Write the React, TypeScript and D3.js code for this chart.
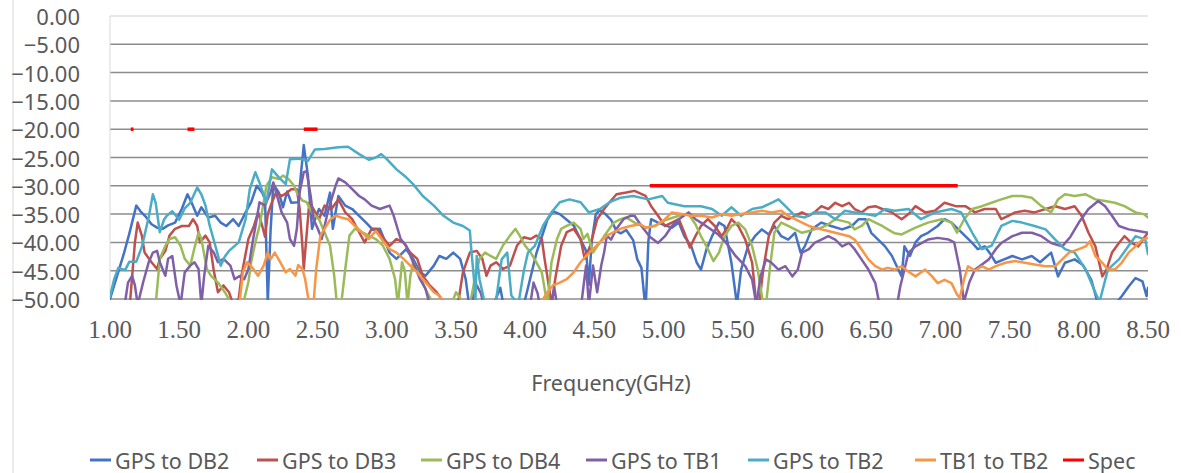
import React from "react";
import * as d3 from "d3";

type Pt = [number, number];

const seriesNames = ["GPS to DB2", "GPS to DB3", "GPS to DB4", "GPS to TB1", "GPS to TB2", "TB1 to TB2", "Spec"];
const seriesColors = ["#4472C4", "#C0504D", "#9BBB59", "#7F60A8", "#4BACC6", "#F79646", "#FF0000"];

const xTicks = [1.0, 1.5, 2.0, 2.5, 3.0, 3.5, 4.0, 4.5, 5.0, 5.5, 6.0, 6.5, 7.0, 7.5, 8.0, 8.5];
const yTicks = [0, -5, -10, -15, -20, -25, -30, -35, -40, -45, -50];

const gpsToDb2: Pt[] = [
  [1.00,-50],[1.05,-46],[1.10,-42],[1.14,-38.4],[1.19,-33.5],[1.22,-34.5],[1.26,-35.5],[1.30,-36.8],[1.34,-37.4],[1.38,-37.6],[1.42,-37],[1.47,-36.5],[1.52,-34],[1.56,-31.5],[1.59,-33],[1.63,-35.3],[1.66,-33.8],[1.71,-35.6],[1.76,-35.3],[1.80,-36.5],[1.84,-37.1],[1.89,-35.9],[1.93,-37.1],[1.98,-34.7],[2.02,-32.9],[2.06,-30],[2.10,-31.2],[2.12,-32.4],[2.14,-50.5],[2.16,-38],[2.18,-29.7],[2.22,-31.2],[2.25,-33.8],[2.28,-31],[2.31,-33],[2.36,-32.9],[2.40,-22.8],[2.43,-28.2],[2.46,-37.6],[2.48,-36],[2.51,-34.1],[2.55,-35.3],[2.59,-31.2],[2.61,-37.6],[2.65,-31.8],[2.70,-33.5],[2.75,-34.1],[2.80,-35.3],[2.85,-36.5],[2.90,-37.8],[2.95,-37.6],[3.02,-41.8],[3.07,-42.9],[3.14,-41.2],[3.19,-42.9],[3.24,-45.3],[3.28,-45.9],[3.34,-44.1],[3.38,-42.4],[3.43,-42.9],[3.48,-41.8],[3.53,-42.9],[3.57,-46.5],[3.60,-52],[3.70,-53],[3.78,-50.5],[3.82,-48],[3.85,-52],[3.95,-53],[4.00,-50],[4.05,-45],[4.08,-42],[4.12,-39],[4.16,-36],[4.20,-34.5],[4.25,-35],[4.30,-36],[4.35,-37],[4.40,-39.5],[4.44,-41.5],[4.46,-47.5],[4.48,-40],[4.51,-35],[4.54,-34.3],[4.58,-35],[4.62,-36],[4.66,-38],[4.69,-38.4],[4.73,-37.8],[4.78,-39.6],[4.81,-43],[4.84,-44.5],[4.87,-52],[4.89,-39.8],[4.91,-35.9],[4.96,-36.5],[5.01,-37],[5.06,-37.4],[5.11,-36.5],[5.15,-38.9],[5.20,-40.7],[5.24,-43.6],[5.27,-44.8],[5.31,-41.2],[5.35,-38.9],[5.40,-36.5],[5.44,-37.1],[5.49,-43.6],[5.53,-51],[5.56,-44.8],[5.61,-40.7],[5.66,-38.9],[5.71,-37.7],[5.76,-38.6],[5.80,-37.1],[5.85,-38.9],[5.90,-39.5],[5.95,-38.3],[5.99,-41.8],[6.02,-40.7],[6.07,-37.7],[6.14,-36.5],[6.21,-37.1],[6.29,-37.7],[6.36,-37.1],[6.41,-35.9],[6.46,-35.9],[6.50,-38.3],[6.55,-39.5],[6.60,-40.7],[6.65,-42.4],[6.70,-45],[6.72,-46],[6.74,-40.7],[6.78,-42.4],[6.82,-40],[6.86,-38.9],[6.91,-38.3],[6.98,-37.1],[7.03,-35.9],[7.08,-36.5],[7.13,-37.7],[7.18,-38.9],[7.23,-40.1],[7.27,-41.2],[7.32,-40.7],[7.36,-42],[7.40,-43.6],[7.46,-43],[7.52,-42.4],[7.59,-43],[7.66,-42.4],[7.72,-43.5],[7.80,-41.8],[7.85,-46],[7.90,-43.6],[7.97,-43],[8.03,-44],[8.09,-46.6],[8.14,-51],[8.20,-52],[8.26,-51],[8.31,-49.5],[8.36,-47.8],[8.41,-46.3],[8.46,-46.9],[8.49,-49.5],[8.50,-48]
];

const gpsToDb3: Pt[] = [
  [1.14,-52],[1.16,-46],[1.18,-40],[1.20,-36.5],[1.23,-38.8],[1.25,-41.8],[1.30,-43.5],[1.34,-44.7],[1.36,-42.9],[1.40,-41.5],[1.43,-38.8],[1.47,-37.6],[1.52,-37.1],[1.57,-37.1],[1.60,-35.9],[1.63,-37.1],[1.65,-40],[1.69,-38.8],[1.72,-40],[1.75,-45],[1.78,-48.8],[1.82,-47.6],[1.86,-48.8],[1.89,-51],[1.93,-50],[1.95,-45.9],[2.00,-39.4],[2.04,-37.1],[2.07,-34.7],[2.10,-37.1],[2.12,-39],[2.14,-35],[2.17,-32.9],[2.20,-31.2],[2.24,-31.8],[2.28,-31.2],[2.31,-30.6],[2.35,-30.6],[2.37,-34],[2.39,-40.6],[2.40,-44.7],[2.42,-38.8],[2.44,-33],[2.47,-34.1],[2.51,-35.9],[2.55,-33.5],[2.60,-34.1],[2.65,-32.4],[2.70,-34.7],[2.75,-35.9],[2.80,-38.2],[2.84,-40],[2.89,-37.6],[2.93,-37.6],[2.98,-39.4],[3.02,-40.6],[3.07,-39.4],[3.12,-40],[3.17,-41.8],[3.22,-42.9],[3.26,-45.9],[3.31,-47.6],[3.36,-48.8],[3.41,-50.5],[3.48,-52],[3.52,-50],[3.55,-45.3],[3.60,-41.8],[3.65,-41.5],[3.69,-42.9],[3.72,-45.9],[3.75,-44.1],[3.79,-43.5],[3.84,-44.7],[3.89,-44.1],[3.94,-40.6],[3.99,-39.1],[4.04,-39.4],[4.08,-38.8],[4.12,-39.4],[4.14,-42.9],[4.17,-47.6],[4.19,-51],[4.22,-46],[4.26,-40.6],[4.30,-38.2],[4.35,-37.6],[4.40,-39.4],[4.43,-42.9],[4.47,-40.6],[4.52,-35.9],[4.57,-34.1],[4.61,-32.9],[4.66,-31.5],[4.73,-31.2],[4.79,-30.9],[4.87,-31.8],[4.91,-33.6],[4.96,-35.3],[5.01,-37.1],[5.06,-36.5],[5.11,-35.9],[5.15,-38.3],[5.19,-40.9],[5.23,-38.9],[5.27,-37.1],[5.32,-35.9],[5.37,-37.1],[5.42,-38.9],[5.46,-37.4],[5.49,-35.9],[5.54,-37.1],[5.59,-39.5],[5.64,-43.6],[5.67,-51],[5.69,-51],[5.72,-44.8],[5.76,-38.9],[5.80,-36.5],[5.85,-35.3],[5.90,-35.9],[5.95,-35.3],[6.00,-34.7],[6.05,-35.3],[6.09,-34.7],[6.14,-33.6],[6.19,-34.1],[6.24,-33],[6.29,-33.6],[6.34,-33],[6.38,-34.1],[6.43,-34.7],[6.48,-33.8],[6.53,-33.6],[6.58,-34.1],[6.65,-34.7],[6.72,-35.9],[6.77,-35],[6.82,-33.6],[6.89,-34.7],[6.96,-34.4],[7.03,-33],[7.11,-33.6],[7.18,-33.6],[7.25,-34.7],[7.32,-34.1],[7.40,-34.1],[7.44,-35.9],[7.49,-35.3],[7.54,-34.7],[7.61,-34.4],[7.68,-34.7],[7.76,-34.1],[7.83,-33.6],[7.90,-34.1],[7.97,-33.6],[8.02,-35.3],[8.07,-38.3],[8.12,-40.7],[8.17,-46],[8.20,-44.8],[8.24,-41.8],[8.29,-40.1],[8.33,-38.9],[8.38,-40.1],[8.43,-40.7],[8.48,-38.9],[8.50,-38.3]
];

const gpsToDb4: Pt[] = [
  [1.33,-51],[1.36,-42.9],[1.40,-40.6],[1.43,-39.4],[1.47,-39.1],[1.51,-40.6],[1.54,-42.9],[1.58,-44.1],[1.61,-41],[1.64,-38.2],[1.66,-39.4],[1.70,-44.7],[1.73,-45.9],[1.78,-47.1],[1.83,-48.8],[1.88,-51],[1.95,-52],[2.00,-47],[2.02,-43.5],[2.05,-40],[2.08,-37.1],[2.11,-33],[2.13,-30],[2.17,-28.5],[2.22,-28.8],[2.25,-28.2],[2.29,-28.8],[2.33,-30],[2.35,-31.2],[2.39,-32.6],[2.42,-32.9],[2.46,-34.7],[2.51,-35.9],[2.55,-38.2],[2.59,-40.6],[2.62,-45.9],[2.64,-51],[2.67,-51],[2.70,-44.7],[2.73,-38.8],[2.77,-37.6],[2.82,-38.2],[2.87,-38.8],[2.92,-39.4],[2.97,-40.5],[3.02,-42.9],[3.06,-46.5],[3.08,-51],[3.11,-43.5],[3.13,-45],[3.15,-51],[3.17,-46],[3.19,-43.5],[3.24,-46],[3.29,-48.8],[3.34,-51],[3.45,-52],[3.50,-48.8],[3.55,-50.5],[3.60,-51],[3.64,-46],[3.67,-42.9],[3.71,-41.8],[3.75,-42.4],[3.79,-42.9],[3.84,-40.5],[3.89,-38.8],[3.93,-37.6],[3.96,-38.8],[4.00,-40.6],[4.04,-41.8],[4.08,-43.5],[4.12,-45.3],[4.16,-51],[4.19,-43.5],[4.23,-39.4],[4.26,-37.6],[4.30,-37.1],[4.35,-36.5],[4.40,-37.6],[4.42,-39.4],[4.45,-38.5],[4.49,-41.8],[4.54,-40],[4.59,-38.2],[4.64,-36.5],[4.69,-35.9],[4.73,-35.6],[4.79,-36.5],[4.87,-37.4],[4.94,-37],[5.02,-36],[5.11,-35.3],[5.18,-35],[5.23,-36.8],[5.27,-38.9],[5.32,-41.2],[5.36,-43.3],[5.40,-41.8],[5.44,-38.9],[5.49,-37.1],[5.54,-36.5],[5.59,-37.7],[5.64,-40.7],[5.68,-44.8],[5.72,-51],[5.74,-51],[5.77,-44.2],[5.80,-38.3],[5.85,-36.5],[5.90,-37.1],[5.95,-37.7],[6.00,-38.3],[6.05,-38],[6.09,-37.7],[6.14,-37.4],[6.19,-36.8],[6.24,-35.9],[6.29,-36.2],[6.34,-36.5],[6.38,-37.7],[6.43,-37.1],[6.48,-35.9],[6.53,-36.5],[6.58,-37.1],[6.62,-37.7],[6.67,-38.4],[6.72,-38.6],[6.82,-37.4],[6.91,-36.5],[7.01,-35.9],[7.08,-36.5],[7.12,-38.3],[7.17,-36],[7.23,-34.1],[7.30,-33.6],[7.37,-33],[7.44,-32.4],[7.52,-31.8],[7.59,-31.8],[7.66,-32.1],[7.73,-33.6],[7.80,-34.7],[7.85,-32.4],[7.90,-31.5],[7.97,-31.8],[8.05,-31.5],[8.12,-32.4],[8.19,-32.7],[8.26,-33],[8.33,-33.6],[8.41,-34.7],[8.47,-35],[8.50,-35.6]
];

const gpsToTb1: Pt[] = [
  [1.10,-52],[1.13,-47.1],[1.16,-45.9],[1.18,-47.6],[1.20,-51],[1.24,-47],[1.28,-43.5],[1.31,-41.8],[1.34,-41.5],[1.36,-43.5],[1.40,-45.9],[1.42,-42.9],[1.45,-42.4],[1.48,-47.6],[1.51,-51],[1.54,-45.3],[1.58,-44.1],[1.61,-43.5],[1.64,-44.7],[1.66,-51],[1.68,-46],[1.71,-40.6],[1.75,-41.8],[1.78,-43.5],[1.82,-42.9],[1.87,-44.1],[1.90,-46.5],[1.94,-45.9],[1.97,-46.5],[2.00,-44.7],[2.03,-40],[2.06,-35.9],[2.08,-32.9],[2.12,-33.5],[2.16,-31.2],[2.18,-29.4],[2.21,-32],[2.24,-34.7],[2.28,-36.5],[2.30,-39.4],[2.33,-40.6],[2.35,-37.6],[2.37,-31.2],[2.40,-27.6],[2.42,-27.4],[2.45,-31.8],[2.47,-35.9],[2.50,-37.5],[2.53,-39.4],[2.57,-35],[2.60,-32.4],[2.63,-30],[2.65,-28.7],[2.70,-29.4],[2.75,-30.6],[2.80,-31.8],[2.84,-32.4],[2.89,-33.5],[2.95,-34.1],[3.02,-33.5],[3.05,-35.3],[3.10,-39.4],[3.14,-40.6],[3.19,-43.5],[3.24,-46.5],[3.28,-48.2],[3.31,-51],[3.45,-53],[3.60,-52],[3.65,-47.6],[3.68,-49],[3.70,-51],[3.85,-53],[4.03,-52],[4.06,-47.1],[4.09,-49],[4.11,-52],[4.18,-52],[4.21,-48],[4.23,-51],[4.40,-52],[4.43,-46],[4.44,-44.1],[4.46,-51],[4.49,-44.1],[4.52,-48.8],[4.55,-44],[4.57,-41.8],[4.59,-38.8],[4.62,-39.5],[4.66,-37.6],[4.71,-35.9],[4.76,-35.3],[4.79,-35.3],[4.84,-37.1],[4.90,-39],[4.96,-40.1],[5.01,-38.9],[5.06,-37.1],[5.11,-35.9],[5.18,-34.7],[5.23,-35.9],[5.27,-36.5],[5.33,-37.5],[5.39,-38.5],[5.45,-40],[5.52,-42.4],[5.59,-44.2],[5.64,-46.6],[5.67,-51],[5.70,-46],[5.74,-43],[5.78,-43.6],[5.83,-44.8],[5.88,-44.2],[5.93,-46],[5.97,-44.8],[6.00,-41.8],[6.05,-41.2],[6.09,-40.1],[6.14,-39.5],[6.19,-38.9],[6.24,-39.5],[6.29,-40.7],[6.34,-40.1],[6.38,-41.2],[6.43,-43],[6.48,-44.8],[6.53,-47.2],[6.56,-51],[6.68,-52],[6.71,-47.8],[6.74,-44.8],[6.77,-41.8],[6.82,-40.7],[6.91,-39.5],[6.98,-39.2],[7.06,-39.5],[7.10,-40],[7.12,-42.4],[7.14,-44.8],[7.17,-50.5],[7.21,-47],[7.25,-44.8],[7.30,-43.9],[7.35,-43],[7.40,-41.2],[7.44,-40.1],[7.52,-38.9],[7.59,-38.3],[7.66,-38.3],[7.73,-38.9],[7.80,-40.1],[7.88,-40.7],[7.94,-39],[8.00,-36.5],[8.07,-34.1],[8.14,-32.7],[8.19,-33.6],[8.24,-35.3],[8.29,-37.1],[8.36,-37.7],[8.43,-38],[8.50,-38.3]
];

const gpsToTb2: Pt[] = [
  [1.00,-49.6],[1.03,-46.5],[1.06,-44.5],[1.11,-44.9],[1.14,-43.4],[1.19,-43.4],[1.23,-40.8],[1.28,-35.5],[1.31,-31.5],[1.33,-33],[1.36,-38.2],[1.39,-36],[1.41,-35.3],[1.45,-34.5],[1.50,-36],[1.54,-34],[1.58,-33],[1.63,-30.3],[1.66,-31.5],[1.69,-33.5],[1.72,-37],[1.76,-40.5],[1.80,-44.1],[1.83,-42.5],[1.86,-41.5],[1.93,-40],[1.98,-35.9],[2.01,-30.6],[2.05,-27.6],[2.08,-29.4],[2.13,-33],[2.17,-27.1],[2.22,-28.5],[2.27,-29.7],[2.30,-25.3],[2.36,-25.2],[2.43,-25.6],[2.48,-23.6],[2.55,-23.5],[2.65,-23.2],[2.72,-23.1],[2.80,-24.4],[2.87,-25.4],[2.92,-25],[2.96,-24.4],[3.00,-25.3],[3.07,-27.1],[3.14,-28.5],[3.19,-29.7],[3.26,-31.8],[3.34,-33.5],[3.41,-35.3],[3.48,-36.5],[3.55,-37.1],[3.60,-37.9],[3.61,-41.2],[3.63,-46.5],[3.64,-50.5],[3.65,-42.4],[3.67,-46.5],[3.71,-51],[3.78,-52],[3.83,-43],[3.87,-41.8],[3.90,-49.4],[3.95,-51],[3.99,-45],[4.02,-41.8],[4.07,-40.6],[4.13,-37],[4.19,-34.7],[4.25,-32.9],[4.32,-32.4],[4.40,-32.9],[4.46,-34.7],[4.54,-34.1],[4.61,-32.9],[4.69,-32.1],[4.78,-31.8],[4.89,-32.4],[4.99,-31.8],[5.03,-33],[5.15,-33.6],[5.27,-33.6],[5.35,-34.1],[5.42,-35.3],[5.49,-33.8],[5.56,-35.3],[5.64,-34.1],[5.71,-33.8],[5.78,-33],[5.83,-32.4],[5.88,-33.6],[5.95,-35.3],[6.02,-35.6],[6.09,-34.7],[6.17,-34.7],[6.24,-35.9],[6.31,-34.4],[6.38,-34.7],[6.46,-35],[6.53,-35.3],[6.60,-34.1],[6.67,-34.4],[6.77,-34.1],[6.86,-35.9],[6.96,-34.7],[7.08,-34.1],[7.15,-34.7],[7.23,-38.3],[7.30,-41.2],[7.37,-40.6],[7.44,-37.1],[7.52,-36.2],[7.59,-36.5],[7.68,-37.1],[7.76,-37.7],[7.83,-39.5],[7.90,-41.2],[7.97,-41.8],[8.05,-44.8],[8.12,-48.9],[8.15,-50.5],[8.21,-44.8],[8.29,-43],[8.36,-40.6],[8.41,-38.9],[8.48,-39.5],[8.50,-42.1]
];

const tb1ToTb2: Pt[] = [
  [1.93,-52],[1.96,-45.3],[1.99,-43.5],[2.03,-44.5],[2.07,-45.9],[2.11,-44.1],[2.14,-41.8],[2.16,-43],[2.19,-41.8],[2.23,-43.5],[2.27,-45.3],[2.30,-44.7],[2.34,-45.9],[2.36,-44],[2.39,-44.7],[2.41,-46.5],[2.44,-51],[2.47,-51],[2.49,-44.7],[2.52,-38.8],[2.55,-37.6],[2.59,-36],[2.63,-35.3],[2.67,-35.6],[2.72,-35.9],[2.77,-37.1],[2.82,-38.2],[2.87,-39.4],[2.92,-38],[2.98,-40],[3.02,-41.2],[3.07,-41.8],[3.12,-42.9],[3.17,-44.1],[3.22,-45.3],[3.26,-46.5],[3.30,-47.6],[3.34,-48.8],[3.38,-49.4],[3.42,-51],[3.80,-53],[4.10,-52],[4.13,-50],[4.16,-48.8],[4.20,-47.6],[4.25,-47.1],[4.30,-46.5],[4.35,-45.3],[4.40,-43.5],[4.44,-42.4],[4.49,-41.2],[4.54,-40],[4.59,-38.8],[4.64,-38.2],[4.69,-37.6],[4.76,-37.1],[4.83,-36.8],[4.87,-37.4],[4.94,-37.1],[5.01,-35.9],[5.06,-34.7],[5.13,-35],[5.20,-35.3],[5.27,-35.3],[5.35,-35.6],[5.42,-35],[5.49,-35.3],[5.56,-35],[5.64,-34.7],[5.71,-34.4],[5.78,-34.7],[5.85,-34.4],[5.90,-35.3],[5.95,-35.9],[6.00,-36.5],[6.05,-37.1],[6.09,-37.4],[6.14,-37.7],[6.19,-38],[6.24,-38.3],[6.29,-38.6],[6.34,-38.9],[6.38,-39.5],[6.43,-41.2],[6.48,-43],[6.53,-44.2],[6.58,-44.8],[6.62,-44.5],[6.67,-44.8],[6.72,-44.2],[6.76,-45],[6.82,-46],[6.89,-44.8],[6.94,-46],[6.98,-47.2],[7.03,-46.6],[7.08,-47.2],[7.12,-49.2],[7.14,-49.8],[7.17,-46.6],[7.20,-44.2],[7.25,-45],[7.30,-44.2],[7.35,-44.8],[7.40,-44.2],[7.47,-43.6],[7.54,-43.3],[7.61,-43.6],[7.68,-43.9],[7.76,-44.2],[7.83,-44.2],[7.88,-43],[7.93,-41.8],[8.00,-41.2],[8.05,-40.7],[8.08,-39.8],[8.12,-42.4],[8.17,-43.6],[8.21,-44.8],[8.26,-44.8],[8.31,-43.6],[8.36,-41.8],[8.41,-40.7],[8.46,-39.5],[8.50,-39.2]
];

// Spec limit segments: [start GHz, end GHz, limit dB]
const specStart = [1.15, 1.56, 2.40, 4.90];
const specEnd = [1.17, 1.61, 2.50, 7.125];
const specLimit = [-20, -20, -20, -30];

const seriesData: Pt[][] = [gpsToDb2, gpsToDb3, gpsToDb4, gpsToTb1, gpsToTb2, tb1ToTb2];

const legendX = [90, 257, 421, 586, 748, 915, 1063];

export default function App() {
  const W = 1181, H = 473;
  const left = 110, right = 1148, top = 16, bottom = 299;
  const x = d3.scaleLinear().domain([1, 8.5]).range([left, right]);
  const y = d3.scaleLinear().domain([-50, 0]).range([bottom, top]);
  const line = d3.line<Pt>().x((d) => x(d[0])).y((d) => y(d[1])).curve(d3.curveLinear);
  const fmt = d3.format(".2f");
  const sans = "'Noto Sans', 'Open Sans', sans-serif";
  const serifStyle = { fontFamily: '"Liberation Serif", "Times New Roman", serif' };
  const textColor = "#595959";

  return (
    <svg width={W} height={H} style={{ position: "absolute", left: 0, top: 0, background: "#fff" }}>
      <defs>
        <clipPath id="plotClip">
          <rect x={left} y={top - 2} width={right - left} height={bottom - top + 3} />
        </clipPath>
      </defs>
      <rect x={0} y={0} width={W} height={H} fill="#fff" />
      <line x1={13} x2={13} y1={0} y2={H} stroke="#d9d9d9" strokeWidth={1} />
      {yTicks.map((t) => (
        <line key={t} x1={left} x2={right} y1={y(t)} y2={y(t)}
          stroke={t === 0 ? "#d0d0d0" : "#8c8c8c"} strokeWidth={t === 0 ? 1.2 : 1.5} />
      ))}
      <line x1={left} x2={left} y1={top} y2={bottom} stroke="#d9d9d9" strokeWidth={1} />
      {yTicks.map((t) => (
        <text key={t} x={80} y={y(t)} textAnchor="end" dominantBaseline="central"
          fontFamily={sans} fontSize={22} fill={textColor}>{fmt(t)}</text>
      ))}
      {xTicks.map((t) => (
        <text key={t} x={x(t)} y={329} textAnchor="middle" dominantBaseline="central"
          style={serifStyle} fontSize={25} fill={textColor}>{fmt(t)}</text>
      ))}
      <text x={611} y={382} textAnchor="middle" dominantBaseline="central" fontFamily={sans} fontSize={21.5} fill={textColor}>Frequency(GHz)</text>
      <g clipPath="url(#plotClip)">
        {seriesData.map((s, i) => (
          <path key={i} d={line(s) || ""} fill="none" stroke={seriesColors[i]} strokeWidth={2.5}
            strokeLinejoin="round" strokeLinecap="round" />
        ))}
        {specStart.map((s, i) => (
          <line key={"spec" + i} x1={x(s)} x2={x(specEnd[i])} y1={y(specLimit[i])} y2={y(specLimit[i])}
            stroke={seriesColors[6]} strokeWidth={3.5} />
        ))}
      </g>
      {seriesNames.map((n, i) => (
        <g key={n} transform={`translate(${legendX[i]},460)`}>
          <line x1={0} x2={21} y1={0} y2={0} stroke={seriesColors[i]} strokeWidth={3} />
          <text x={25} y={0} dominantBaseline="central" fontFamily={sans} fontSize={21.5} fill={textColor}>{n}</text>
        </g>
      ))}
    </svg>
  );
}
